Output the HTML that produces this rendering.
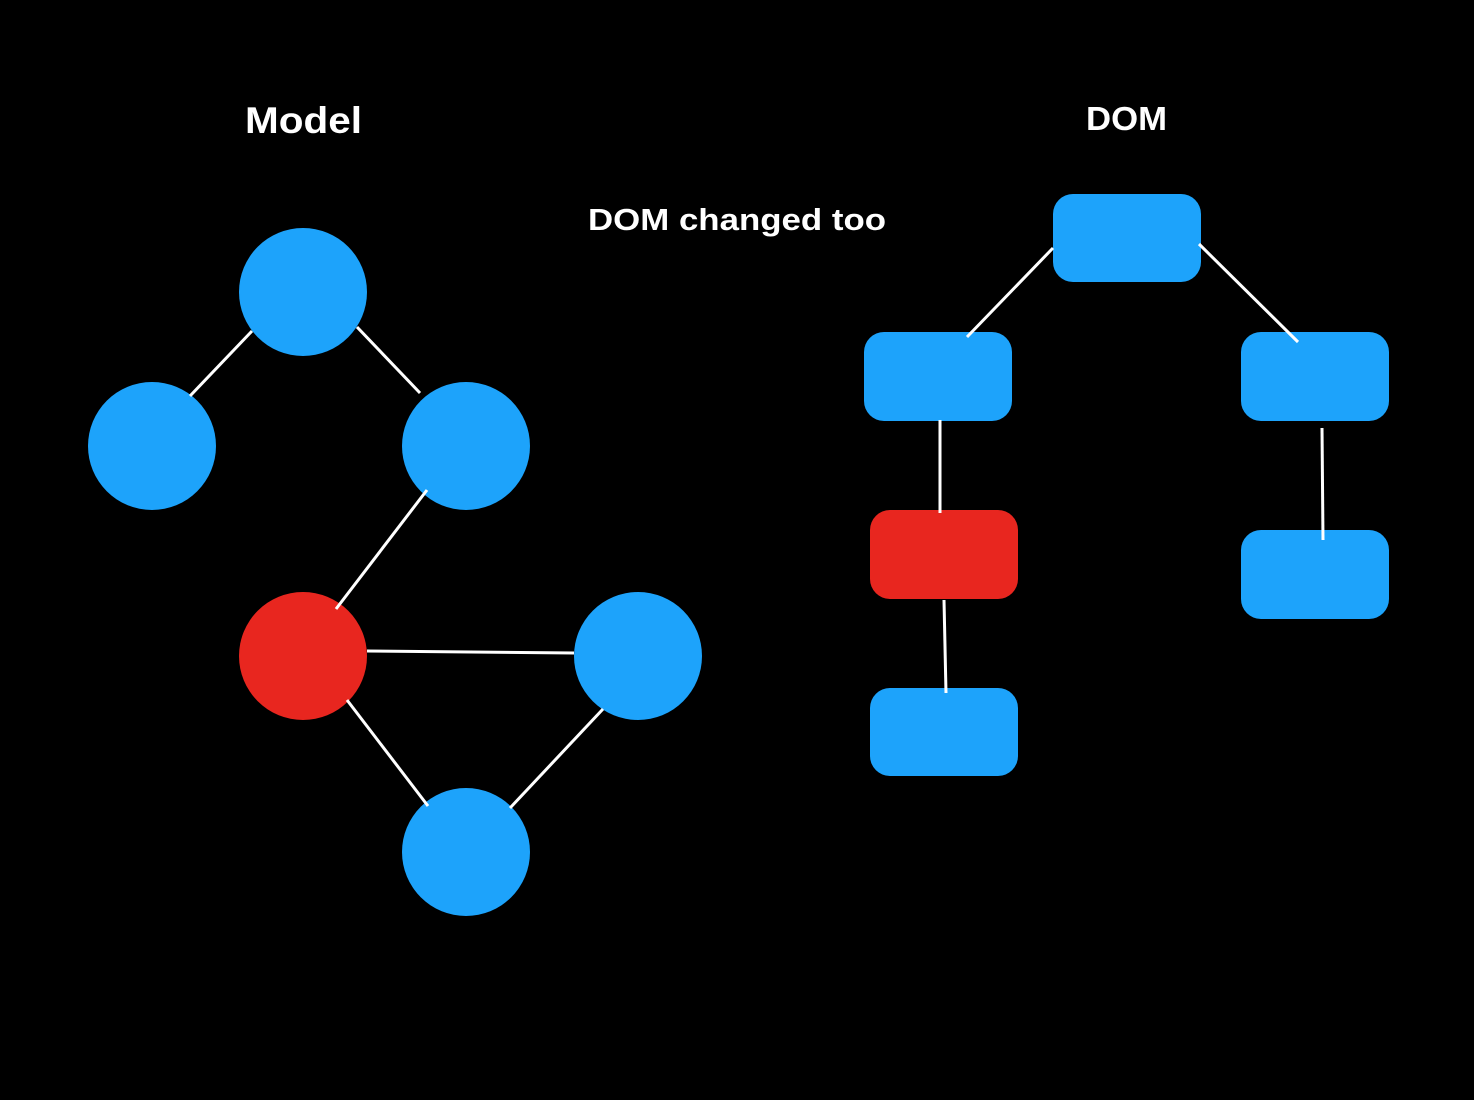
<!DOCTYPE html>
<html>
<head>
<meta charset="utf-8">
<style>
  html, body { margin:0; padding:0; background:#000; }
  svg { display:block; }
  text { font-family: "Liberation Sans", "DejaVu Sans", sans-serif; font-weight:bold; fill:#fff; }
</style>
</head>
<body>
<svg width="1474" height="1100" viewBox="0 0 1474 1100" xmlns="http://www.w3.org/2000/svg">
  <rect width="1474" height="1100" fill="#000"/>

  <text x="245" y="133" font-size="37" textLength="117" lengthAdjust="spacingAndGlyphs">Model</text>
  <text x="1086" y="130" font-size="33" textLength="81" lengthAdjust="spacingAndGlyphs">DOM</text>
  <text x="588" y="230" font-size="31" textLength="298" lengthAdjust="spacingAndGlyphs">DOM changed too</text>

  <g fill="#1DA3FB">
    <circle cx="303" cy="292" r="64"/>
    <circle cx="152" cy="446" r="64"/>
    <circle cx="466" cy="446" r="64"/>
    <circle cx="638" cy="656" r="64"/>
    <circle cx="466" cy="852" r="64"/>
    <rect x="1053" y="194" width="148" height="88" rx="20"/>
    <rect x="864" y="332" width="148" height="89" rx="20"/>
    <rect x="1241" y="332" width="148" height="89" rx="20"/>
    <rect x="1241" y="530" width="148" height="89" rx="20"/>
    <rect x="870" y="688" width="148" height="88" rx="20"/>
  </g>
  <g fill="#E8261F">
    <circle cx="303" cy="656" r="64"/>
    <rect x="870" y="510" width="148" height="89" rx="20"/>
  </g>

  <g stroke="#fff" stroke-width="3" fill="none">
    <line x1="190" y1="396" x2="252" y2="331"/>
    <line x1="357" y1="327" x2="420" y2="393"/>
    <line x1="427" y1="490" x2="336" y2="609"/>
    <line x1="367" y1="651" x2="574" y2="653"/>
    <line x1="347" y1="700" x2="428" y2="806"/>
    <line x1="510" y1="808" x2="603" y2="709"/>
    <line x1="1053" y1="248" x2="967" y2="337"/>
    <line x1="1199" y1="244" x2="1298" y2="342"/>
    <line x1="940" y1="420" x2="940" y2="513"/>
    <line x1="944" y1="600" x2="946" y2="693"/>
    <line x1="1322" y1="428" x2="1323" y2="540"/>
  </g>
</svg>
</body>
</html>
